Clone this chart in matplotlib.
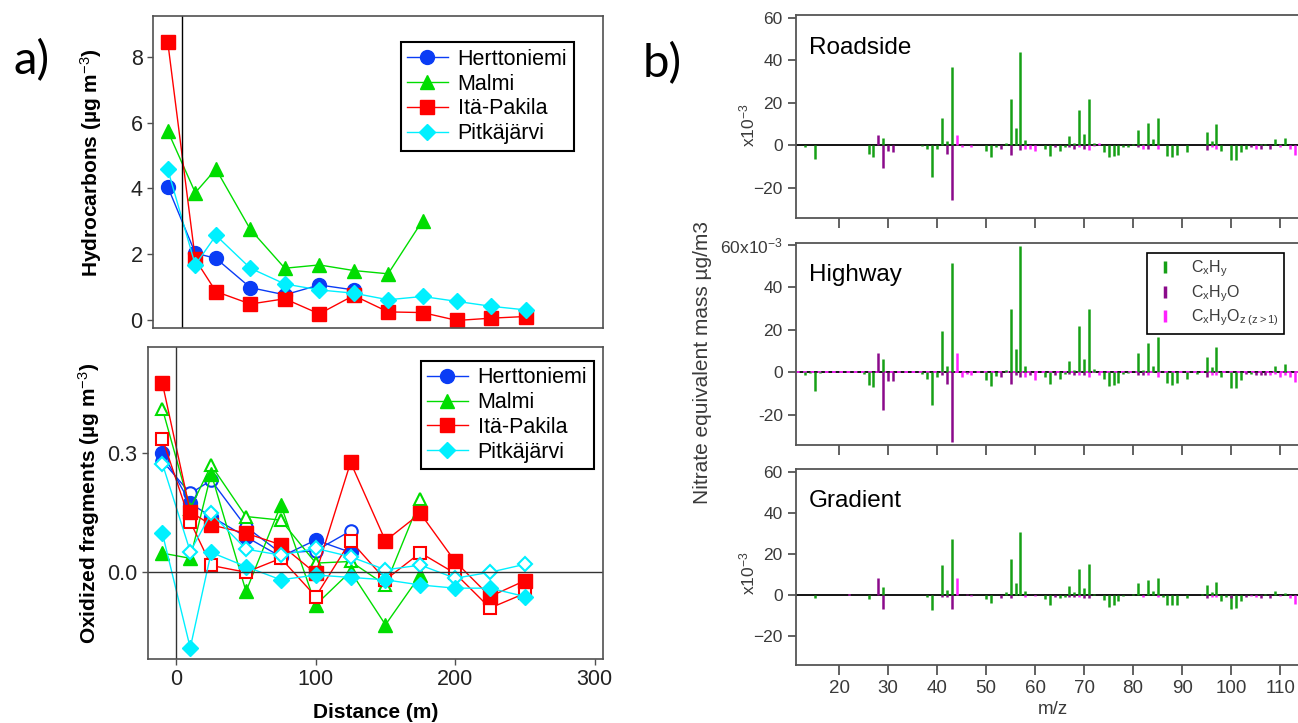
import numpy as np
import matplotlib
matplotlib.use("Agg")
import matplotlib.pyplot as plt
from matplotlib.lines import Line2D

plt.rcParams['font.family'] = ['Liberation Sans', 'DejaVu Sans']
plt.rcParams['mathtext.fontset'] = 'custom'
plt.rcParams['mathtext.rm'] = 'Liberation Sans'
plt.rcParams['mathtext.it'] = 'Liberation Sans:italic'
plt.rcParams['mathtext.bf'] = 'Liberation Sans:bold'

# ---- panel a) data: distance from road (m) ----
DIST = [-10, 10, 25, 50, 75, 100, 125, 150, 175, 200, 225, 250]
SITES = ["Herttoniemi", "Malmi", "Itä-Pakila", "Pitkäjärvi"]

HERT_HC = [4.05, 2.03, 1.87, 0.98, 0.76, 1.06, 0.91]
MALMI_HC = [5.75, 3.87, 4.59, 2.75, 1.57, 1.67, 1.50, 1.40, 3.02]
PAKILA_HC = [8.46, 1.84, 0.86, 0.48, 0.64, 0.18, 0.74, 0.24, 0.22, -0.02, 0.05, 0.10]
PITKA_HC = [4.58, 1.67, 2.57, 1.57, 1.09, 0.91, 0.81, 0.61, 0.71, 0.56, 0.41, 0.30]

# oxidized fragments: filled (F) and open (O) markers
HERT_OX_F = [0.300, 0.173, 0.140, 0.089, 0.039, 0.081, 0.050]
HERT_OX_O = [0.280, 0.198, 0.231, 0.114, 0.048, 0.054, 0.104]
MALMI_OX_F = [0.048, 0.035, 0.248, -0.048, 0.169, -0.082, 0.002, -0.132, -0.007]
MALMI_OX_O = [0.411, 0.160, 0.269, 0.140, 0.131, 0.023, 0.027, -0.032, 0.183]
PAKILA_OX_F = [0.475, 0.152, 0.119, 0.098, 0.069, -0.003, 0.276, 0.079, 0.148, 0.027, -0.061, -0.021]
PAKILA_OX_O = [0.336, 0.127, 0.017, 0.0, 0.035, -0.061, 0.079, -0.019, 0.049, -0.003, -0.090, -0.053]
PITKA_OX_F = [0.098, -0.190, 0.050, 0.014, -0.019, -0.007, -0.013, -0.019, -0.032, -0.040, -0.040, -0.061]
PITKA_OX_O = [0.273, 0.052, 0.148, 0.058, 0.043, 0.060, 0.039, 0.006, 0.018, -0.015, 0.0, 0.020]

SITE_COLORS = ["#0a3cf5", "#00dd00", "#ff0000", "#00f0ff"]
SITE_MARKERS = ["o", "^", "s", "D"]
SITE_MS = [10, 10, 9.5, 8.5]

# ---- panel b) data: difference spectra (m/z, value x1e-3) ----
ROAD_CH = [(13, -1), (15, -6.6), (26, -4), (27, -5.6), (29, 3.4), (37, -0.4), (38, -1.9), (39, -15),
           (40, -1.9), (41, 12.7), (42, 2.2), (43, 36.7), (50, -2.5), (51, -5.6), (52, -1), (54, 1.2),
           (55, 22), (56, 8.3), (57, 43.7), (58, 2.3), (62, -1.9), (63, -5), (65, -2.5), (66, -1),
           (67, 4.4), (68, 1.2), (69, 16.6), (70, 5.2), (71, 22), (72, 1), (74, -3), (75, -5.6),
           (76, -5), (77, -4.7), (78, -1), (79, -1), (80, 0.5), (81, 7.2), (82, 0.5), (83, 10.3),
           (84, 3), (85, 12.7), (87, -5), (88, -5.6), (89, -4.7), (91, -3), (95, 6.1), (96, 1.9),
           (97, 9.9), (98, -2.5), (100, -6.7), (101, -6.7), (102, -3), (103, -1.5), (106, 0.5),
           (107, 0.5), (109, 2.8), (110, 0.5), (111, 3.6)]
ROAD_CHO = [(28, 5), (29, -10.5), (30, -2.5), (31, -3), (42, -4), (43, -25.7), (53, -1.5), (55, -4.7),
            (57, -2), (64, -1), (67, -1), (68, -1.5), (70, -1.5), (81, -1), (83, -1.5), (95, -2),
            (104, -1), (106, -1.5), (108, -1.5)]
ROAD_CHOZ = [(44, 5), (45, -1), (47, -1), (58, -1.5), (59, -1.5), (60, -2.5), (69, -1), (71, -2),
             (72, -0.5), (73, 1), (82, -1.5), (85, -1.5), (96, -1), (97, -1.5), (105, -1.5),
             (110, -1), (112, -1.5), (113, -4.5)]

HWY_CH = [(13, -1.5), (14, -0.5), (15, -8.8), (16, -0.5), (25, -1), (26, -5.8), (27, -6.8), (29, 6.1),
          (37, -1), (38, -3), (39, -15.4), (40, -2.4), (41, 19.3), (42, 3), (43, 51.5), (50, -3.6),
          (51, -6.3), (52, -1.6), (54, 1.1), (55, 29.7), (56, 11.2), (57, 59.7), (58, 3), (62, -2.4),
          (63, -5.7), (65, -3), (66, -1), (67, 5.2), (68, 1.1), (69, 22), (70, 6.3), (71, 29.7),
          (72, 1.5), (74, -3), (75, -6.3), (76, -5.8), (77, -5.2), (78, -1), (79, -0.5), (81, 9),
          (82, 1.3), (83, 13.7), (84, 3), (85, 16.5), (87, -5.2), (88, -6), (89, -5.2), (91, -3.3),
          (93, -1), (95, 7.2), (96, 2.4), (97, 12.1), (98, -2), (100, -7.5), (101, -7.5), (102, -3.6),
          (104, -1), (109, 3), (111, 4), (114, -2.4)]
HWY_CHO = [(28, 9), (29, -17.7), (30, -4.1), (31, -4.1), (41, -1.5), (42, -5.7), (43, -33), (53, -2),
           (55, -5.7), (56, -1.5), (57, -2), (59, -1.5), (64, -1.5), (67, -1), (68, -1.5), (70, -1.5),
           (81, -1.5), (82, -1.5), (95, -2), (103, -1), (105, -1.5), (106, -1.5), (107, -1.5)]
HWY_CHOZ = [(44, 9), (45, -2), (46, -1), (47, -1.5), (58, -2), (60, -3.5), (69, -1.5), (71, -2),
            (73, -1.5), (83, -1.5), (85, -2), (96, -1.5), (97, -1.5), (108, -1.5), (109, -1),
            (110, -2), (111, -1.5), (112, -2), (113, -4.4)]

GRAD_CH = [(13, -0.3), (15, -1.5), (26, -2.3), (29, 3.6), (31, -0.3), (38, -1), (39, -7.4), (41, 14.4),
           (42, 2.5), (43, 26.9), (50, -2.3), (51, -3.9), (54, 1.1), (55, 17.4), (56, 5.7), (57, 30.3),
           (58, 1.8), (62, -2), (63, -4.9), (65, -1.5), (66, -1), (67, 4.3), (68, 1.1), (69, 12.6),
           (70, 3.1), (71, 14.9), (72, 0.5), (74, -2.6), (75, -5.9), (76, -4.9), (77, -3.3), (78, -0.5),
           (80, 0.5), (81, 5.7), (83, 7), (84, 1.8), (85, 8.2), (86, -1), (87, -4.9), (88, -5.2),
           (89, -4.9), (91, -1.5), (94, 0.5), (95, 4.6), (96, 1.1), (97, 6.4), (98, -3.3), (99, -1),
           (100, -7.2), (101, -6.6), (102, -3.3), (107, 0.5), (109, 1.6), (111, 1)]
GRAD_CHO = [(28, 8.2), (29, -6.9), (41, -1), (42, -1), (43, -6.9), (46, 0.5), (53, -1.5), (55, -1.5),
            (64, -1), (67, -1), (68, -1), (70, -1.5), (71, -1.5), (95, -1.5), (100, -1.5), (103, -1),
            (106, -1.5), (108, -1.5)]
GRAD_CHOZ = [(22, 0.3), (44, 8.2), (47, -0.5), (58, -1), (60, -0.5), (69, -1), (82, -1), (85, -1),
             (96, -1), (97, -1), (104, -0.5), (105, -1), (110, -0.5), (112, -1.5), (113, -4.4)]

SPEC_NAMES = ["Roadside", "Highway", "Gradient"]
GROUP_COLORS = ["#16a016", "#8b0a8b", "#ff22ff"]
GROUP_LABELS = [r"C$_\mathrm{x}$H$_\mathrm{y}$", r"C$_\mathrm{x}$H$_\mathrm{y}$O",
                r"C$_\mathrm{x}$H$_\mathrm{y}$O$_\mathrm{z\ (z>1)}$"]

W, H = 1298, 723
fig = plt.figure(figsize=(W / 100, H / 100), dpi=100)


def add_px(x0, y0, x1, y1):
    return fig.add_axes([x0 / W, 1 - y1 / H, (x1 - x0) / W, (y1 - y0) / H])


def style_left(ax):
    for s in ax.spines.values():
        s.set_color("#505050"); s.set_linewidth(1.2)
    ax.tick_params(direction="out", length=4, width=1, color="#505050",
                   labelsize=15.5, labelcolor="#222222")


def site_legend(ax, anchor):
    lg = ax.legend(loc="upper left", bbox_to_anchor=anchor, borderaxespad=0, fontsize=15.5,
                   fancybox=False, edgecolor="black", framealpha=1, handlelength=1.9,
                   handletextpad=0.45, labelspacing=0.18, borderpad=0.3)
    lg.get_frame().set_linewidth(1.5)


# ---------------- panel a) top ----------------
ax1 = add_px(153, 16, 603, 328)
style_left(ax1)
hc = [HERT_HC, MALMI_HC, PAKILA_HC, PITKA_HC]
for name, vals, c, m, ms in zip(SITES, hc, SITE_COLORS, SITE_MARKERS, SITE_MS):
    ax1.plot(DIST[:len(vals)], vals, color=c, marker=m, ms=ms, lw=1.0, mec=c, label=name)
ax1.axvline(0, color="black", lw=1)
ax1.set_xlim(-20.7, 306); ax1.set_ylim(-0.25, 9.25)
ax1.set_yticks([0, 2, 4, 6, 8]); ax1.set_xticks([])
ax1.set_ylabel(r"Hydrocarbons (µg m$^{-3}$)", fontsize=15, fontweight="bold")
ax1.yaxis.set_label_coords(-0.108, 0.53)
site_legend(ax1, (0.55, 0.916))

# ---------------- panel a) bottom ----------------
ax2 = add_px(148, 347, 603, 659)
style_left(ax2)
oxf = [HERT_OX_F, MALMI_OX_F, PAKILA_OX_F, PITKA_OX_F]
oxo = [HERT_OX_O, MALMI_OX_O, PAKILA_OX_O, PITKA_OX_O]
for name, vf, vo, c, m, ms in zip(SITES, oxf, oxo, SITE_COLORS, SITE_MARKERS, SITE_MS):
    ax2.plot(DIST[:len(vo)], vo, color=c, marker=m, ms=ms - 1, lw=1.0, mec=c, mfc="white", mew=1.5)
    ax2.plot(DIST[:len(vf)], vf, color=c, marker=m, ms=ms, lw=1.0, mec=c, label=name)
ax2.axvline(0, color="#333333", lw=1)
ax2.axhline(0, color="#333333", lw=1)
ax2.set_xlim(-20.3, 306); ax2.set_ylim(-0.218, 0.566)
ax2.set_yticks([0.0, 0.3]); ax2.set_yticklabels(["0.0", "0.3"])
ax2.set_xticks([0, 100, 200, 300])
ax2.set_xlabel("Distance (m)", fontsize=15, fontweight="bold", labelpad=9)
ax2.set_ylabel(r"Oxidized fragments (µg m$^{-3}$)", fontsize=15, fontweight="bold")
ax2.yaxis.set_label_coords(-0.1, 0.5)
site_legend(ax2, (0.599, 0.956))

fig.text(32 / W, 1 - 61 / H, "a)", fontsize=34, family=["Lato", "DejaVu Sans"], ha="center", va="center")
fig.text(662 / W, 1 - 64 / H, "b)", fontsize=34, family=["Lato", "DejaVu Sans"], ha="center", va="center")

# ---------------- panel b) spectra ----------------
spectra = [(ROAD_CH, ROAD_CHO, ROAD_CHOZ), (HWY_CH, HWY_CHO, HWY_CHOZ), (GRAD_CH, GRAD_CHO, GRAD_CHOZ)]
rows = [(15.3, 218.3), (242.7, 445), (469.3, 665)]
for name, groups, (y0, y1) in zip(SPEC_NAMES, spectra, rows):
    ax = add_px(796, y0, 1310, y1)
    for s in ax.spines.values():
        s.set_color("#555555"); s.set_linewidth(1.3)
    ax.axhline(0, color="black", lw=1.3, zorder=1)
    if name == "Highway":
        ax.axhline(0, color="#ff22ff", lw=1.3, ls=(0, (2, 2)), zorder=1.5)
    for pairs, c in zip(groups, GROUP_COLORS):
        mz = np.array([p[0] for p in pairs]); v = np.array([p[1] for p in pairs])
        ax.vlines(mz, 0, v, colors=c, lw=1.8, zorder=2)
    ax.set_xlim(11.2, 116.1); ax.set_ylim(-34.3, 61.1)
    ax.set_xticks(np.arange(20, 111, 10))
    ax.set_yticks([-20, 0, 20, 40, 60])
    ax.tick_params(direction="out", color="#555555", width=1.3, labelcolor="#3a3a3a")
    ax.tick_params(axis="y", length=6, labelsize=12.5)
    ax.tick_params(axis="x", length=7, labelsize=13.5)
    if name == "Highway":
        ax.set_yticklabels(["-20", "0", "20", "40", r"60x10$^{-3}$"])
        hs = [Line2D([], [], ls="none", marker="|", ms=8, mew=2.5, color=c) for c in GROUP_COLORS]
        lg = ax.legend(hs, GROUP_LABELS, loc="upper left", bbox_to_anchor=(0.683, 0.949),
                       borderaxespad=0, fontsize=11.5, fancybox=False, edgecolor="black",
                       framealpha=1, handlelength=1.6, handletextpad=0.8, labelspacing=0.25,
                       borderpad=0.35)
        lg.get_frame().set_linewidth(1.2)
        for t in lg.get_texts():
            t.set_color("#3a3a3a")
    else:
        ax.text(-0.095, 0.46 if name == "Roadside" else 0.47, r"x10$^{-3}$", transform=ax.transAxes,
                rotation=90, ha="center", va="center", fontsize=12.5, color="#3a3a3a")
    if name != "Gradient":
        ax.set_xticklabels([])
    else:
        ax.set_xlabel("m/z", fontsize=13.5, color="#3a3a3a", labelpad=3)
    ax.text(0.025, 0.84, name, transform=ax.transAxes, fontsize=17.5, ha="left", va="center")

fig.text(703 / W, 1 - 362 / H, "Nitrate equivalent mass µg/m3", rotation=90, fontsize=15,
         color="#3a3a3a", ha="center", va="center")

fig.savefig("out.png", dpi=100)
